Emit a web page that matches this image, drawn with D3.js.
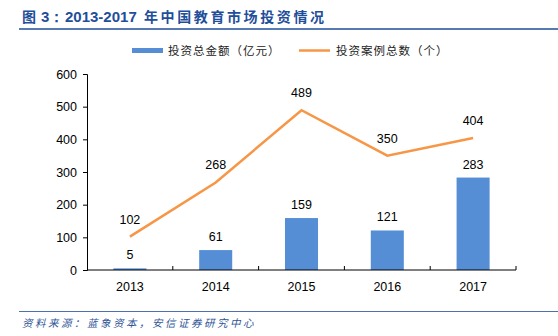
<!DOCTYPE html>
<html><head><meta charset="utf-8">
<script src="https://cdn.jsdelivr.net/npm/d3@7/dist/d3.min.js"></script>
<style>body{margin:0;background:#fff}svg{display:block}</style>
</head><body>
<svg id="c" width="558" height="336"></svg>
<script>
const years = ["2013","2014","2015","2016","2017"];
const amount = [5, 61, 159, 121, 283];        // 投资总金额（亿元）
const cases = [102, 268, 489, 350, 404];      // 投资案例总数（个）
const yTicks = [0,100,200,300,400,500,600];
const seriesNames = ["投资总金额（亿元）","投资案例总数（个）"];
const titleParts = ["图", "3：", "2013-2017", "年中国教育市场投资情况"];
const sourceText = "资料来源：蓝象资本，安信证券研究中心";

const svg = d3.select("#c");
const W = 558, H = 336;
const mLeft = 87, mRight = 516, mTop = 74, mBottom = 270;
const blue = "#558ED5", orange = "#F79646", navy = "#1F4E9A";
const latin = "'Liberation Sans', Arial, sans-serif";
const cjk = "'Noto Sans CJK SC', sans-serif";

const x = d3.scaleBand().domain(years).range([mLeft, mRight]).paddingInner(0.615).paddingOuter(0.3075);
const y = d3.scaleLinear().domain([0, 600]).range([mBottom, mTop]);

// Title
const tt = svg.append("text").attr("y", 22).attr("fill", navy).attr("font-weight", "bold");
tt.append("tspan").attr("x", 22).attr("font-family", cjk).attr("font-size", 14).text(titleParts[0]);
tt.append("tspan").attr("x", 41).attr("font-family", latin).attr("font-size", 15).text(titleParts[1]);
tt.append("tspan").attr("x", 65).attr("font-family", latin).attr("font-size", 15).text(titleParts[2]);
tt.append("tspan").attr("x", 144).attr("font-family", cjk).attr("font-size", 14).attr("letter-spacing", 2.6).text(titleParts[3]);
svg.append("line").attr("x1", 19).attr("x2", W).attr("y1", 29).attr("y2", 29)
  .attr("stroke", navy).attr("stroke-width", 1.5);

// Legend
const lg = svg.append("g");
lg.append("rect").attr("x", 132).attr("y", 48).attr("width", 31).attr("height", 5).attr("fill", blue);
lg.append("text").attr("x", 168).attr("y", 55).attr("font-family", cjk).attr("font-size", 11.5).attr("letter-spacing", 1)
  .attr("fill", "#222").text(seriesNames[0]);
lg.append("line").attr("x1", 299).attr("x2", 330).attr("y1", 50.5).attr("y2", 50.5).attr("stroke", orange).attr("stroke-width", 2.5);
lg.append("text").attr("x", 336).attr("y", 55).attr("font-family", cjk).attr("font-size", 11.5).attr("letter-spacing", 1)
  .attr("fill", "#222").text(seriesNames[1]);

// Bars
svg.selectAll("rect.bar").data(years).join("rect").attr("class","bar")
  .attr("x", d => x(d)).attr("width", x.bandwidth())
  .attr("y", (d,i) => y(amount[i])).attr("height", (d,i) => y(0) - y(amount[i]))
  .attr("fill", blue);

// Y axis
const ya = svg.append("g").attr("transform", `translate(${mLeft},0)`)
  .call(d3.axisLeft(y).tickValues(yTicks).tickSize(4).tickPadding(6));
ya.select(".domain").attr("stroke", "#000");
ya.selectAll(".tick line").attr("stroke", "#000");
ya.selectAll("text").attr("font-family", latin).attr("font-size", 12.5).attr("fill", "#000");

// X axis
const xa = svg.append("g").attr("transform", `translate(0,${mBottom})`)
  .call(d3.axisBottom(x).tickSize(0).tickPadding(12));
xa.select(".domain").attr("stroke", "#000").attr("d", `M${mLeft},0H${mRight}`);
xa.selectAll("text").attr("font-family", latin).attr("font-size", 12.5).attr("fill", "#000");
const bounds = d3.range(1, years.length + 1).map(i => mLeft + i * (mRight - mLeft) / years.length);
xa.selectAll("line.b").data(bounds).join("line").attr("class","b")
  .attr("x1", d => d).attr("x2", d => d).attr("y1", 0).attr("y2", -4).attr("stroke", "#000");

// Line
const cx = d => x(d) + x.bandwidth() / 2;
svg.append("path").datum(years)
  .attr("d", d3.line().x(cx).y((d,i) => y(cases[i])))
  .attr("fill", "none").attr("stroke", orange).attr("stroke-width", 2.5);

// Labels
svg.selectAll("text.bl").data(years).join("text").attr("class","bl")
  .attr("x", cx).attr("y", (d,i) => y(amount[i]) - 9)
  .attr("text-anchor", "middle").attr("font-family", latin).attr("font-size", 12.5).attr("fill", "#000")
  .text((d,i) => amount[i]);
svg.selectAll("text.ll").data(years).join("text").attr("class","ll")
  .attr("x", cx).attr("y", (d,i) => y(cases[i]) - 13)
  .attr("text-anchor", "middle").attr("font-family", latin).attr("font-size", 12.5).attr("fill", "#000")
  .text((d,i) => cases[i]);

// Source
svg.append("line").attr("x1", 19).attr("x2", W).attr("y1", 311.5).attr("y2", 311.5)
  .attr("stroke", "#4F6FB0").attr("stroke-width", 1);
svg.append("text").attr("x", 22).attr("y", 327).attr("fill", "#2F5597")
  .attr("font-family", cjk).attr("font-style", "italic").attr("font-size", 10.5).attr("letter-spacing", 2.5)
  .text(sourceText);
</script>
</body></html>
